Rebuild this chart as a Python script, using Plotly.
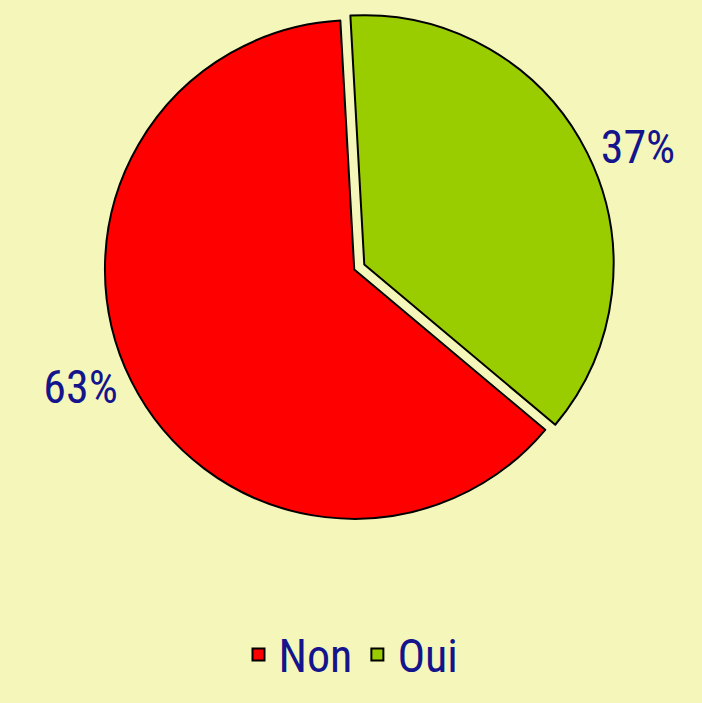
import plotly.graph_objects as go

labels = ["Non", "Oui"]
values = [63, 37]
colors = ["#FF0000", "#9ACD00"]
pulls = [0, 0.045]

FONT = "Roboto Condensed, Noto Sans Condensed, DejaVu Sans Condensed"

fig = go.Figure()
fig.add_trace(go.Pie(
    labels=labels, values=values, sort=False,
    direction="clockwise", rotation=130,
    pull=pulls,
    marker=dict(colors=colors, line=dict(color="black", width=2)),
    textinfo="percent", textposition="outside",
    texttemplate="%{percent:.0%}",
    textfont=dict(family=FONT, size=46, color="#14148C"),
    domain=dict(x=[0.012, 1], y=[0.236, 1]),
))

fig.update_layout(
    width=702, height=703,
    paper_bgcolor="#F5F7BA", plot_bgcolor="#F5F7BA",
    margin=dict(l=0, r=0, t=0, b=0),
    showlegend=True,
    legend=dict(orientation="h", x=0.5, xanchor="center", y=0, yanchor="bottom",
                font=dict(family=FONT, size=46, color="#14148C")),
)

# nudge the drawing so the pie sits where it does in the original
fig.write_html("out.html", config={"displayModeBar": False},
               post_script="document.body.style.margin='0';"
                           "document.body.style.background='#F5F7BA';"
                           "document.getElementById('{plot_id}').style.transform='translate(8px,-12px)';")
